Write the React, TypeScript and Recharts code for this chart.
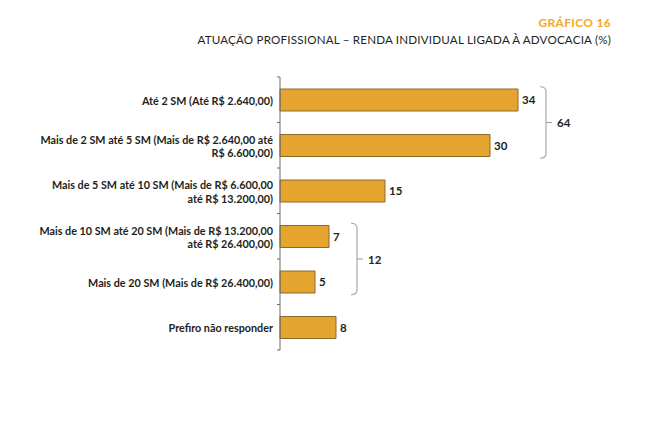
import React from 'react';
import { BarChart, Bar, XAxis, YAxis, LabelList, ReferenceLine } from 'recharts';

// categories (line breaks follow the original layout)
const categories = [
  'Até 2 SM (Até R$ 2.640,00)',
  'Mais de 2 SM até 5 SM (Mais de R$ 2.640,00 até\nR$ 6.600,00)',
  'Mais de 5 SM até 10 SM (Mais de R$ 6.600,00\naté R$ 13.200,00)',
  'Mais de 10 SM até 20 SM (Mais de R$ 13.200,00\naté R$ 26.400,00)',
  'Mais de 20 SM (Mais de R$ 26.400,00)',
  'Prefiro não responder',
];
const values = [34, 30, 15, 7, 5, 8];

// bracketed groups: first/last category index and the group total
const groupStart = [0, 3];
const groupEnd = [1, 4];
const groupTotal = ['64', '12'];

const chartData = categories.map((name, i) => ({ name, value: values[i] }));

const FONT = 'Lato, "Open Sans", sans-serif';
const TEXT = '#231f20';
const BAR_FILL = '#e4a42e';
const BAR_STROKE = '#8d6a2c';
const BRACKET = '#a8a8a8';

const CategoryTick = (props: any) => {
  const { x, y, payload, index, visibleTicksCount } = props;
  const lines: string[] = String(payload.value).split('\n');
  const half = payload.offset ?? 0;
  const lh = 13.5;
  const top = y - ((lines.length - 1) * lh) / 2;
  return (
    <g>
      <line x1={x + 5} x2={x + 8} y1={y - half} y2={y - half} stroke="#6b6b6b" strokeWidth={1} />
      {index === visibleTicksCount - 1 && (
        <line x1={x + 5} x2={x + 8} y1={y + half} y2={y + half} stroke="#6b6b6b" strokeWidth={1} />
      )}
      <text
        x={x + 1}
        y={top}
        textAnchor="end"
        dominantBaseline="central"
        fontFamily={FONT}
        fontWeight={700}
        fontSize={10.8}
        fill={TEXT}
      >
        {lines.map((l, i) => (
          <tspan key={i} x={x + 1} dy={i === 0 ? 0 : lh}>
            {l}
          </tspan>
        ))}
      </text>
    </g>
  );
};

const Bracket = (label: string) => (props: any) => {
  const { x1, y1, y2 } = props;
  const bx = x1 + 28;
  const yt = Math.min(y1, y2) - 13;
  const yb = Math.max(y1, y2) + 13;
  const ym = (yt + yb) / 2;
  return (
    <g>
      <path
        d={`M ${bx - 6} ${yt} Q ${bx} ${yt} ${bx} ${yt + 5} L ${bx} ${yb - 5} Q ${bx} ${yb} ${bx - 6} ${yb}`}
        fill="none"
        stroke={BRACKET}
        strokeWidth={1.2}
      />
      <line x1={bx} x2={bx + 6} y1={ym} y2={ym} stroke={BRACKET} strokeWidth={1.2} />
      <text
        x={bx + 11}
        y={ym}
        dominantBaseline="central"
        fontFamily={FONT}
        fontWeight={700}
        fontSize={11.5}
        fill={TEXT}
      >
        {label}
      </text>
    </g>
  );
};

export default function App() {
  return (
    <div style={{ position: 'absolute', left: 0, top: 0, width: 660, height: 436, background: '#fff' }}>
      <div
        style={{
          position: 'absolute',
          right: 49,
          top: 15,
          textAlign: 'right',
          fontFamily: FONT,
          lineHeight: '15px',
        }}
      >
        <div style={{ color: '#f7a823', fontWeight: 700, fontSize: 12, letterSpacing: 0.3 }}>GRÁFICO 16</div>
        <div style={{ color: TEXT, fontSize: 11.6, letterSpacing: 0.2, marginTop: 2 }}>
          ATUAÇÃO PROFISSIONAL – RENDA INDIVIDUAL LIGADA À ADVOCACIA (%)
        </div>
      </div>
      <BarChart
        width={660}
        height={436}
        data={chartData}
        layout="vertical"
        margin={{ top: 77, right: 30, bottom: 86, left: 0 }}
        barSize={22}
      >
        <XAxis type="number" domain={[0, 50]} hide />
        <YAxis
          type="category"
          dataKey="name"
          width={280}
          axisLine={{ stroke: '#6b6b6b', strokeWidth: 1 }}
          tickLine={false}
          tick={<CategoryTick />}
          interval={0}
        />
        <Bar dataKey="value" fill={BAR_FILL} stroke={BAR_STROKE} strokeWidth={1} isAnimationActive={false}>
          <LabelList
            dataKey="value"
            position="right"
            offset={4}
            style={{ fontFamily: FONT, fontWeight: 700, fontSize: 11.5, fill: TEXT }}
          />
        </Bar>
        {groupStart.map((s, g) => {
          const idx = categories.slice(s, groupEnd[g] + 1);
          const maxVal = Math.max(...values.slice(s, groupEnd[g] + 1));
          return (
            <ReferenceLine
              key={g}
              segment={[
                { x: maxVal, y: idx[0] },
                { x: maxVal, y: idx[idx.length - 1] },
              ]}
              ifOverflow="visible"
              shape={Bracket(groupTotal[g])}
            />
          );
        })}
      </BarChart>
    </div>
  );
}
